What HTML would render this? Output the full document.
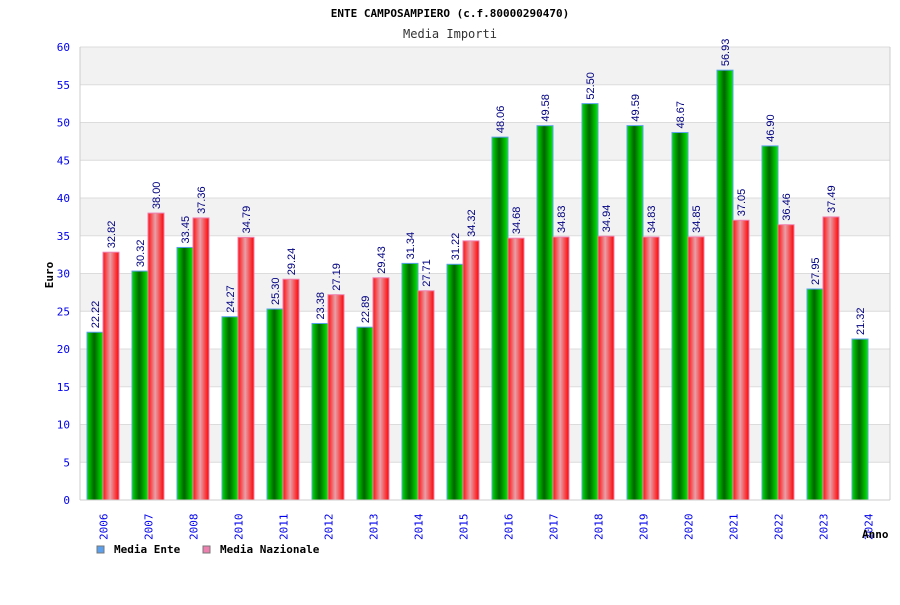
<!DOCTYPE html>
<html><head><meta charset="utf-8"><style>
body{margin:0;background:#fff;}
svg text{font-family:"DejaVu Sans Mono","Liberation Mono",monospace;}
svg text.val{font-family:"Liberation Sans",sans-serif;}
</style></head><body>
<svg id="chart" width="900" height="600" xmlns="http://www.w3.org/2000/svg">
<defs>
<linearGradient id="gG" x1="0" x2="1" y1="0" y2="0">
<stop offset="0" stop-color="#00e000"/><stop offset="0.45" stop-color="#006400"/><stop offset="1" stop-color="#00f000"/>
</linearGradient>
<linearGradient id="gR" x1="0" x2="1" y1="0" y2="0">
<stop offset="0" stop-color="#ff1010"/><stop offset="0.45" stop-color="#e8a0a8"/><stop offset="1" stop-color="#ff0000"/>
</linearGradient>
</defs>
<text x="450" y="17" text-anchor="middle" font-size="11" font-weight="bold" fill="#000">ENTE CAMPOSAMPIERO (c.f.80000290470)</text>
<text x="450" y="38" text-anchor="middle" font-size="12" fill="#333">Media Importi</text>
<g id="grid"></g>
<g id="bars"></g>
<g id="axes"></g>
<text transform="translate(53,275) rotate(-90)" text-anchor="middle" font-size="11" font-weight="bold" fill="#000">Euro</text>
<text x="862" y="538" font-size="11" font-weight="bold" fill="#000">Anno</text>
<g>
<rect x="97" y="546" width="7" height="7" fill="#5aa0ee" stroke="#777"/>
<text x="114" y="553" font-size="11" font-weight="bold" fill="#000">Media Ente</text>
<rect x="203" y="546" width="7" height="7" fill="#ee80b0" stroke="#777"/>
<text x="220" y="553" font-size="11" font-weight="bold" fill="#000">Media Nazionale</text>
</g>
</svg>
<script>
const categories=["2006","2007","2008","2010","2011","2012","2013","2014","2015","2016","2017","2018","2019","2020","2021","2022","2023","2024"];
const mediaEnte=[22.22,30.32,33.45,24.27,25.30,23.38,22.89,31.34,31.22,48.06,49.58,52.50,49.59,48.67,56.93,46.90,27.95,21.32];
const mediaNazionale=[32.82,38.00,37.36,34.79,29.24,27.19,29.43,27.71,34.32,34.68,34.83,34.94,34.83,34.85,37.05,36.46,37.49,null];
const yTicks=[0,5,10,15,20,25,30,35,40,45,50,55,60];
const NS="http://www.w3.org/2000/svg";
const L=80,R=890,T=47,B=500,YMAX=60;
const slot=(R-L)/categories.length;
const y=v=>B-v/YMAX*(B-T);
const xs=i=>L+i*slot;
function mk(tag,attrs,parent,text){const e=document.createElementNS(NS,tag);for(const k in attrs)e.setAttribute(k,attrs[k]);if(text!==undefined)e.textContent=text;parent.appendChild(e);return e;}
const grid=document.getElementById('grid'),bars=document.getElementById('bars'),axes=document.getElementById('axes');
for(let i=0;i<yTicks.length-1;i++){
  if(i%2===1){const r=mk('rect',{x:L,y:y(yTicks[i+1]),width:R-L,height:y(yTicks[i])-y(yTicks[i+1]),fill:'#f2f2f2'},grid);
  
  }
}
yTicks.forEach(t=>{
  const l=mk('line',{x1:L,x2:R,y1:y(t),y2:y(t),stroke:'#dcdcdc','stroke-width':1},grid);
  
  
  const tx=mk('text',{x:L-10,y:y(t)+4,'text-anchor':'end','font-size':11,fill:'#0000ee'},axes,String(t));
  
  
});
mk('line',{x1:L,x2:L,y1:T,y2:B,stroke:'#ccc'},axes);
mk('line',{x1:R,x2:R,y1:T,y2:B,stroke:'#ccc'},axes);
mk('line',{x1:L,x2:R,y1:B,y2:B,stroke:'#ccc'},axes);
const bw=16;
categories.forEach((c,i)=>{
  const x0=xs(i)+7;
  const v=mediaEnte[i];
  const g=mk('rect',{x:x0,y:y(v),width:bw,height:B-y(v),fill:'url(#gG)',stroke:'#5aa0ee','stroke-width':1},bars);
  
  
  const gl=mk('text',{class:'val',transform:`translate(${x0+bw/2+4},${y(v)-4}) rotate(-90)`,'font-size':11,fill:'#000080'},bars,v.toFixed(2));
  
  
  const n=mediaNazionale[i];
  if(n!==null){
    const r=mk('rect',{x:x0+bw,y:y(n),width:bw,height:B-y(n),fill:'url(#gR)',stroke:'#ee80b0','stroke-width':1},bars);
    
    
    const rl=mk('text',{class:'val',transform:`translate(${x0+bw*1.5+4},${y(n)-4}) rotate(-90)`,'font-size':11,fill:'#000080'},bars,n.toFixed(2));
    
    
  }
  const xl=mk('text',{transform:`translate(${xs(i)+slot/2+5},${540}) rotate(-90)`,'font-size':11,fill:'#0000ee'},axes,c);
  
  
});
</script>
</body></html>
